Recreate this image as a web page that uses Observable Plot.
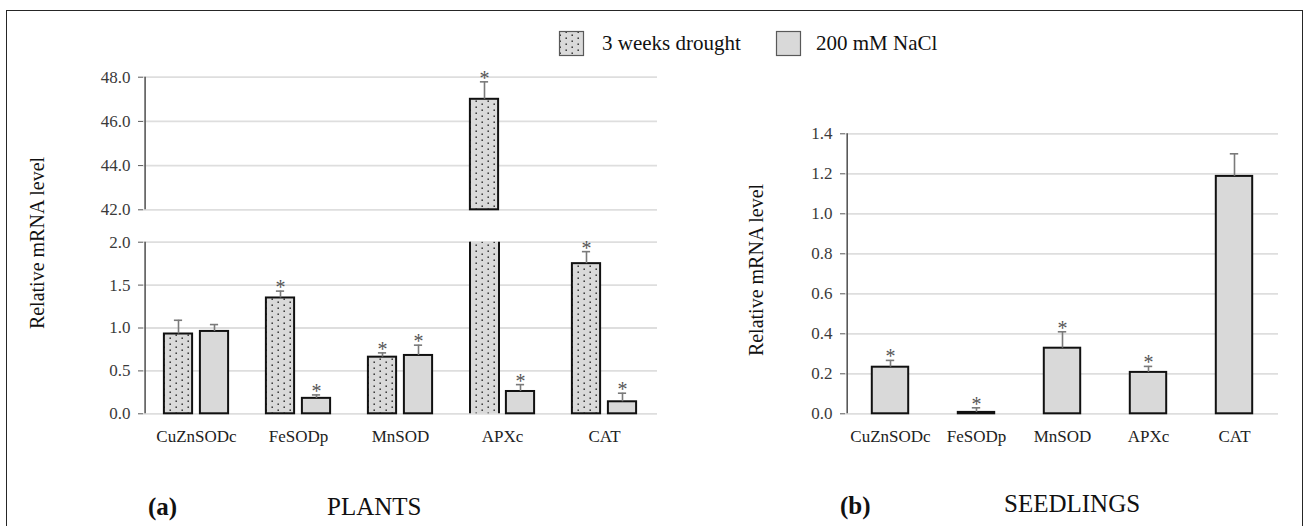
<!DOCTYPE html>
<html><head><meta charset="utf-8">
<script src="https://cdn.jsdelivr.net/npm/d3@7"></script>
<script src="https://cdn.jsdelivr.net/npm/@observablehq/plot@0.6"></script>
<style>
body{margin:0;background:#fff;}
#fig{position:relative;width:1307px;height:526px;overflow:hidden;font-family:"Liberation Serif","Times New Roman",serif;}
#fig svg, #fig svg text{font-family:"Liberation Serif","Times New Roman",serif !important;}
#frame{position:absolute;left:6px;top:10px;width:1297px;height:540px;border:1.6px solid #262626;box-sizing:border-box;}
.abs{position:absolute;top:0;}
</style></head><body>
<div id="fig">
  <div id="frame"></div>
  <div id="panelA" class="abs" style="left:0px"></div>
  <div id="panelB" class="abs" style="left:680px"></div>
  <svg id="overlay" class="abs" style="left:0;pointer-events:none" width="1307" height="526">
    <defs>
      <pattern id="dots" width="12" height="12" patternUnits="userSpaceOnUse">
        <rect width="12" height="12" fill="#dadada"/>
        <rect x="1.5" y="1.5" width="1.4" height="1.4" fill="#1a1a1a"/>
        <rect x="7.5" y="4.5" width="1.4" height="1.4" fill="#1a1a1a"/>
        <rect x="1.5" y="7.5" width="1.4" height="1.4" fill="#1a1a1a"/>
        <rect x="7.5" y="10.5" width="1.4" height="1.4" fill="#1a1a1a"/>
      </pattern>
    </defs>
    <g id="legend"></g>
    <g id="captions"></g>
  </svg>
</div>
<script>
// ---------- data ----------
const genes = ["CuZnSODc", "FeSODp", "MnSOD", "APXc", "CAT"];
const seriesNames = ["3 weeks drought", "200 mM NaCl"];

// (a) PLANTS
const plantDrought    = [0.93, 1.35, 0.66, 47.0, 1.75];
const plantDroughtErr = [0.16, 0.08, 0.05, 0.79, 0.14];
const plantDroughtSig = [false, true, true, true, true];
const plantSalt       = [0.96, 0.18, 0.68, 0.26, 0.14];
const plantSaltErr    = [0.08, 0.04, 0.12, 0.08, 0.10];
const plantSaltSig    = [false, true, true, true, true];

// (b) SEEDLINGS
const seedSalt    = [0.233, 0.007, 0.328, 0.207, 1.187];
const seedSaltErr = [0.034, 0.023, 0.082, 0.030, 0.113];
const seedSaltSig = [true, true, true, true, false];

// axis ticks
const plantLowerTicks = [0, 0.5, 1.0, 1.5, 2.0];
const plantUpperTicks = [42, 44, 46, 48];
const seedTicks = [0, 0.2, 0.4, 0.6, 0.8, 1.0, 1.2, 1.4];
const breakLow = 2, breakHigh = 42, plantTop = 48, seedTop = 1.4;

const panelTitles = ["PLANTS", "SEEDLINGS"];
const panelTags = ["(a)", "(b)"];
const yTitle = "Relative mRNA level";

// ---------- styles / layout ----------
const FONT = '"Liberation Serif", "Times New Roman", serif';
const GREY_FILL = "#d9d9d9", BAR_STROKE = "#111", ERR = "#7a7a7a", GRID = "#dedede", AXIS = "#595959";
const barW = 29, pairGap = 7, capW = 9;

// ---------- panel A ----------
const A_W = 680, H = 470, A_L = 143, A_R = 657;
const stepA = (A_R - A_L) / genes.length;
const offA = (stepA - (2 * barW + pairGap)) / 2;
const specA = [
  {vals: plantDrought, errs: plantDroughtErr, sig: plantDroughtSig, fill: "url(#dots)",
   insetLeft: offA, insetRight: stepA - offA - barW, dx: -(barW + pairGap) / 2},
  {vals: plantSalt, errs: plantSaltErr, sig: plantSaltSig, fill: GREY_FILL,
   insetLeft: offA + barW + pairGap, insetRight: offA, dx: (barW + pairGap) / 2}
];

function rowsOf(spec) {
  return genes.map((g, i) => ({gene: g, value: spec.vals[i], err: spec.errs[i], sig: spec.sig[i]}));
}
function segmentsOf(rows) {
  const closed = [], open = [];
  for (const r of rows) {
    if (r.value <= breakLow) closed.push({gene: r.gene, lo: 0, hi: r.value});
    else {
      open.push({gene: r.gene, lo: 0, hi: breakLow});
      closed.push({gene: r.gene, lo: breakHigh, hi: r.value});
    }
  }
  return {closed, open};
}

function seriesMarks(spec, step) {
  const rows = rowsOf(spec);
  const {closed, open} = segmentsOf(rows);
  const capInset = (step - capW) / 2;
  return [
    Plot.barY(open, {x: "gene", y1: "lo", y2: "hi", fill: spec.fill,
      insetLeft: spec.insetLeft, insetRight: spec.insetRight}),
    Plot.ruleX(open, {x: "gene", y1: "lo", y2: "hi", stroke: BAR_STROKE, strokeWidth: 2,
      dx: spec.dx - barW / 2}),
    Plot.ruleX(open, {x: "gene", y1: "lo", y2: "hi", stroke: BAR_STROKE, strokeWidth: 2,
      dx: spec.dx + barW / 2}),
    Plot.barY(closed, {x: "gene", y1: "lo", y2: "hi", fill: spec.fill, stroke: BAR_STROKE, strokeWidth: 2,
      insetLeft: spec.insetLeft, insetRight: spec.insetRight}),
    Plot.ruleX(rows, {x: "gene", y1: "value", y2: d => d.value + d.err, stroke: ERR, strokeWidth: 1.6, dx: spec.dx}),
    Plot.tickY(rows, {x: "gene", y: d => d.value + d.err, stroke: ERR, strokeWidth: 1.6, dx: spec.dx,
      insetLeft: capInset, insetRight: capInset}),
    Plot.text(rows.filter(d => d.sig), {x: "gene", y: d => d.value + d.err, text: () => "*",
      dx: spec.dx, dy: 3, lineAnchor: "bottom", fontSize: 20, fill: "#555"})
  ];
}

const plantTicks = [...plantLowerTicks, ...plantUpperTicks];
const plantAxisSegments = [{lo: 0, hi: breakLow}, {lo: breakHigh, hi: plantTop}];

const plotA = Plot.plot({
  width: A_W, height: H,
  marginLeft: A_L, marginRight: A_W - A_R, marginTop: 70, marginBottom: 56,
  style: {fontFamily: FONT, fontSize: "17px", color: "#3a3a3a", background: "transparent", overflow: "visible"},
  x: {type: "band", domain: genes, padding: 0},
  y: {type: "linear", domain: [0, breakLow, breakHigh, plantTop], range: [413.3, 241.7, 209.3, 76.7]},
  marks: [
    Plot.gridY(plantTicks, {stroke: GRID, strokeOpacity: 1, strokeWidth: 1.8}),
    ...specA.flatMap(s => seriesMarks(s, stepA)),
    Plot.ruleX(plantAxisSegments, {x: () => genes[0], y1: "lo", y2: "hi", dx: -stepA / 2, stroke: AXIS, strokeWidth: 1.6}),
    Plot.axisY(plantTicks, {tickSize: 5, tickPadding: 8, tickFormat: d => d.toFixed(1), stroke: AXIS, label: null}),
    Plot.axisX({tickSize: 0, tickPadding: 15, label: null, fill: "#222"})
  ]
});
document.getElementById("panelA").append(plotA);

// ---------- panel B ----------
const B_W = 620, B_L = 165, B_R = 598;
const stepB = (B_R - B_L) / genes.length;
const barWB = 37;
const specB = {vals: seedSalt, errs: seedSaltErr, sig: seedSaltSig, fill: GREY_FILL,
  insetLeft: (stepB - barWB) / 2, insetRight: (stepB - barWB) / 2, dx: 0};
const rowsB = rowsOf(specB);
const capInsetB = (stepB - capW) / 2;

const plotB = Plot.plot({
  width: B_W, height: H,
  marginLeft: B_L, marginRight: B_W - B_R, marginTop: 70, marginBottom: 56,
  style: {fontFamily: FONT, fontSize: "17px", color: "#3a3a3a", background: "transparent", overflow: "visible"},
  x: {type: "band", domain: genes, padding: 0},
  y: {type: "linear", domain: [0, seedTop], range: [413.3, 133.3]},
  marks: [
    Plot.gridY(seedTicks, {stroke: GRID, strokeOpacity: 1, strokeWidth: 1.8}),
    Plot.barY(rowsB, {x: "gene", y: "value", fill: specB.fill, stroke: BAR_STROKE, strokeWidth: 2,
      insetLeft: specB.insetLeft, insetRight: specB.insetRight}),
    Plot.ruleX(rowsB, {x: "gene", y1: "value", y2: d => d.value + d.err, stroke: ERR, strokeWidth: 1.6}),
    Plot.tickY(rowsB, {x: "gene", y: d => d.value + d.err, stroke: ERR, strokeWidth: 1.6,
      insetLeft: capInsetB, insetRight: capInsetB}),
    Plot.text(rowsB.filter(d => d.sig), {x: "gene", y: d => d.value + d.err, text: () => "*",
      dy: 3, lineAnchor: "bottom", fontSize: 20, fill: "#555"}),
    Plot.ruleX([{lo: 0, hi: seedTop}], {x: () => genes[0], y1: "lo", y2: "hi", dx: -stepB / 2, stroke: AXIS, strokeWidth: 1.6}),
    Plot.axisY(seedTicks, {tickSize: 5, tickPadding: 8, tickFormat: d => d.toFixed(1), stroke: AXIS, label: null}),
    Plot.axisX({tickSize: 0, tickPadding: 15, label: null, fill: "#222"})
  ]
});
document.getElementById("panelB").append(plotB);

// ---------- legend, y titles, captions ----------
const ov = d3.select("#overlay");
const leg = ov.select("#legend");
const legendItems = [
  {name: seriesNames[0], fill: "url(#dots)", x: 559.5, tx: 602},
  {name: seriesNames[1], fill: GREY_FILL, x: 776.5, tx: 816}
];
for (const it of legendItems) {
  leg.append("rect").attr("x", it.x).attr("y", 31.5).attr("width", 24).attr("height", 24)
    .attr("fill", it.fill).attr("stroke", "#595959").attr("stroke-width", 1.2);
  leg.append("text").attr("x", it.tx).attr("y", 50).style("font-size", "21px").attr("fill", "#111").text(it.name);
}
const cap = ov.select("#captions");
[{x: 44, y: 243}, {x: 763, y: 270}].forEach(p => {
  cap.append("text").attr("transform", `translate(${p.x},${p.y}) rotate(-90)`)
    .attr("text-anchor", "middle").style("font-size", "20px").attr("fill", "#111").text(yTitle);
});
[{x: 148, y: 515, t: panelTags[0]}, {x: 840, y: 514, t: panelTags[1]}].forEach(p => {
  cap.append("text").attr("x", p.x).attr("y", p.y).style("font-size", "25px").attr("font-weight", "bold")
    .attr("fill", "#111").text(p.t);
});
[{x: 327, y: 515, t: panelTitles[0]}, {x: 1004, y: 512, t: panelTitles[1]}].forEach(p => {
  cap.append("text").attr("x", p.x).attr("y", p.y).style("font-size", "25px").attr("fill", "#111").text(p.t);
});
</script>
</body></html>
